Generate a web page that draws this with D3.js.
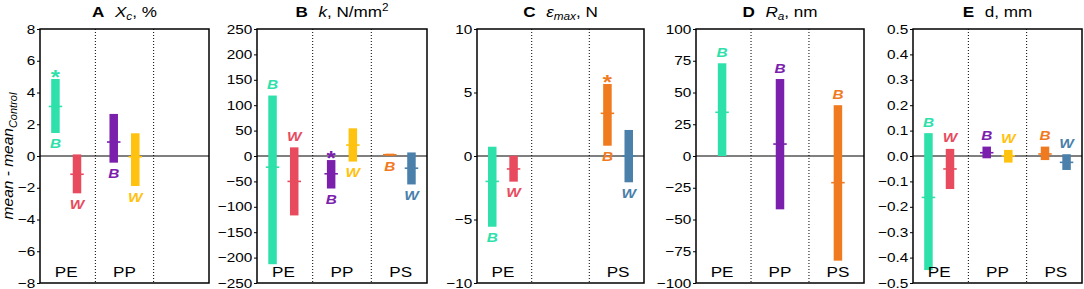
<!DOCTYPE html>
<html>
<head>
<meta charset="utf-8">
<script src="https://cdn.jsdelivr.net/npm/d3@7"></script>
<style>
  body { margin: 0; background: #fff; }
  svg text { font-family: "Liberation Sans", Arial, sans-serif; }
</style>
</head>
<body>
<div id="chart"></div>
<script>
// groups and series, order of every value array: PE-B, PE-W, PP-B, PP-W, PS-B, PS-W
const groups = ["PE", "PP", "PS"];
const series = ["B", "W"];

const colors = {
  PE: { B: "#2ee0aa", W: "#e84b5e" },
  PP: { B: "#7b20ad", W: "#ffc20f" },
  PS: { B: "#f07a1f", W: "#4a80aa" }
};

// A  Xc, %
const aLow  = [1.45, -2.35, -0.42, -1.89, null, null];
const aHigh = [4.85, 0.10, 2.65, 1.43, null, null];
const aMean = [3.12, -1.15, 0.88, -0.05, null, null];
const aStar = [1, 0, 0, 0, 0, 0];
const aSide = ["below", "below", "below", "below", null, null];
const aTicks = [-8, -6, -4, -2, 0, 2, 4, 6, 8];

// B  k, N/mm2
const bLow  = [-213, -117, -64, -11, 0.5, -56];
const bHigh = [119, 17, -8, 54.5, 4.5, 7];
const bMean = [-22, -50, -35, 21.6, 2.5, -24];
const bStar = [0, 0, 1, 0, 0, 0];
const bSide = ["above", "above", "below", "below", "below", "below"];
const bTicks = [-250, -200, -150, -100, -50, 0, 50, 100, 150, 200, 250];

// C  eps max, N
const cLow  = [-5.57, -2.02, null, null, 0.81, -2.07];
const cHigh = [0.73, 0.02, null, null, 5.67, 2.05];
const cMean = [-2.0, -1.02, null, null, 3.36, 0.0];
const cStar = [0, 0, 0, 0, 1, 0];
const cSide = ["below", "below", null, null, "below", "below"];
const cTicks = [-10, -5, 0, 5, 10];

// D  Ra, nm
const dLow  = [0, null, -42, null, -82.4, null];
const dHigh = [73, null, 60.6, null, 40, null];
const dMean = [34.4, null, 9.4, null, -21, null];
const dStar = [0, 0, 0, 0, 0, 0];
const dSide = ["above", null, "above", null, "above", null];
const dTicks = [-100, -75, -50, -25, 0, 25, 50, 75, 100];

// E  d, mm
const eLow  = [-0.449, -0.13, -0.009, -0.026, -0.016, -0.055];
const eHigh = [0.09, 0.028, 0.037, 0.024, 0.037, 0.007];
const eMean = [-0.163, -0.051, 0.013, 0.001, 0.008, -0.025];
const eStar = [0, 0, 0, 0, 0, 0];
const eSide = ["above", "above", "above", "above", "above", "above"];
const eTicks = [-0.5, -0.4, -0.3, -0.2, -0.1, 0, 0.1, 0.2, 0.3, 0.4, 0.5];

const panels = [
  { letter: "A", low: aLow, high: aHigh, mean: aMean, star: aStar, side: aSide, ticks: aTicks,
    dom: [-8, 8], fmt: d3.format("d"), left: 40, right: 209 },
  { letter: "B", low: bLow, high: bHigh, mean: bMean, star: bStar, side: bSide, ticks: bTicks,
    dom: [-250, 250], fmt: d3.format("d"), left: 257, right: 427 },
  { letter: "C", low: cLow, high: cHigh, mean: cMean, star: cStar, side: cSide, ticks: cTicks,
    dom: [-10, 10], fmt: d3.format("d"), left: 477, right: 644 },
  { letter: "D", low: dLow, high: dHigh, mean: dMean, star: dStar, side: dSide, ticks: dTicks,
    dom: [-100, 100], fmt: d3.format("d"), left: 696, right: 864 },
  { letter: "E", low: eLow, high: eHigh, mean: eMean, star: eStar, side: eSide, ticks: eTicks,
    dom: [-0.5, 0.5], fmt: d3.format(".1f"), left: 913, right: 1082 }
];

const W = 1084, H = 289;
const yTop = 29, yBot = 283;
const barW = 8.5;
const SX = 1.18; // the source fonts are a bit wider than Liberation Sans

const svg = d3.select("#chart").append("svg").attr("width", W).attr("height", H);

// text placed with a horizontal stretch
function txt(parent, x, y) {
  return parent.append("text").attr("transform", `translate(${x},${y}) scale(${SX},1)`);
}

// y axis label
const yl = svg.append("text")
  .attr("transform", `translate(13,${(yTop + yBot) / 2}) rotate(-90)`)
  .attr("text-anchor", "middle")
  .style("font-size", "15.5px").style("font-style", "italic");
yl.append("tspan").text("mean - mean");
yl.append("tspan").attr("dy", 4).style("font-size", "11px").text("Control");

// titles (rich text)
function title(g, letter, cx) {
  const t = txt(g, cx, 16.5).attr("text-anchor", "middle").style("font-size", "14.5px");
  t.append("tspan").style("font-weight", "bold").text(letter);
  const rest = t.append("tspan").attr("dx", 9);
  if (letter === "A") {
    rest.style("font-style", "italic").text("X");
    t.append("tspan").style("font-style", "italic").style("font-size", "10px").attr("dy", 3).text("c");
    t.append("tspan").attr("dy", -3).text(", %");
  } else if (letter === "B") {
    rest.style("font-style", "italic").text("k");
    t.append("tspan").text(", N/mm");
    t.append("tspan").style("font-size", "10px").attr("dy", -6).text("2");
  } else if (letter === "C") {
    rest.style("font-style", "italic").text("ε");
    t.append("tspan").style("font-style", "italic").style("font-size", "10px").attr("dy", 3).text("max");
    t.append("tspan").attr("dy", -3).text(", N");
  } else if (letter === "D") {
    rest.style("font-style", "italic").text("R");
    t.append("tspan").style("font-style", "italic").style("font-size", "10px").attr("dy", 3).text("a");
    t.append("tspan").attr("dy", -3).text(", nm");
  } else {
    rest.text("d, mm");
  }
}

panels.forEach(p => {
  const g = svg.append("g");
  const x = d3.scaleLinear().domain([-0.45, 2.45]).range([p.left, p.right]);
  const y = d3.scaleLinear().domain(p.dom).range([yBot, yTop]);

  // axis
  const ax = g.append("g").attr("transform", `translate(${p.left},0)`)
    .call(d3.axisLeft(y).tickValues(p.ticks).tickFormat(p.fmt).tickSize(3).tickPadding(1));
  ax.select(".domain").remove();
  ax.selectAll("text").style("font-size", "13px").attr("fill", "#000")
    .attr("transform", `scale(${SX},1)`);
  ax.selectAll("line").attr("stroke", "#000");

  // dividers
  [0.5, 1.5].forEach(v => {
    g.append("line").attr("x1", x(v)).attr("x2", x(v)).attr("y1", yTop).attr("y2", yBot)
      .attr("stroke", "#000").attr("stroke-width", 1).attr("stroke-dasharray", "1,2");
  });

  // zero line
  g.append("line").attr("x1", p.left).attr("x2", p.right).attr("y1", y(0)).attr("y2", y(0))
    .attr("stroke", "#000").attr("stroke-width", 1);

  // bars
  const rows = [];
  groups.forEach((gr, gi) => {
    const present = series.filter((s, si) => p.low[gi * 2 + si] != null);
    present.forEach((s) => {
      const si = series.indexOf(s);
      const i = gi * 2 + si;
      const off = present.length === 1 ? 0 : (si === 0 ? -0.185 : 0.185);
      rows.push({ g: gr, gi, s, lo: p.low[i], hi: p.high[i], m: p.mean[i],
        star: p.star[i], side: p.side[i], cx: x(gi + off), col: colors[gr][s] });
    });
  });

  g.selectAll("rect.bar").data(rows).enter().append("rect").attr("class", "bar")
    .attr("x", d => d.cx - barW / 2).attr("width", barW)
    .attr("y", d => y(d.hi)).attr("height", d => Math.max(1.5, y(d.lo) - y(d.hi)))
    .attr("fill", d => d.col);

  g.selectAll("line.mean").data(rows).enter().append("line").attr("class", "mean")
    .attr("x1", d => d.cx - barW / 2 - 2.5).attr("x2", d => d.cx + barW / 2 + 2.5)
    .attr("y1", d => y(d.m)).attr("y2", d => y(d.m))
    .attr("stroke", d => d.col).attr("stroke-width", 1.6);

  rows.forEach(d => {
    const ly = d.side === "above" ? y(d.hi) - 6.5 : y(d.lo) + 15.5;
    txt(g, d.cx, ly).attr("text-anchor", "middle").attr("fill", d.col)
      .style("font-size", "13px").style("font-weight", "bold").style("font-style", "italic")
      .text(d.s);
    if (d.star) {
      txt(g, d.cx, y(d.hi) + 5).attr("text-anchor", "middle").attr("fill", d.col)
        .style("font-size", "20px").style("font-weight", "bold").text("*");
    }
  });

  // group labels
  groups.forEach((gr, gi) => {
    if (p.low[gi * 2] == null && p.low[gi * 2 + 1] == null) return;
    txt(g, x(gi), 277).attr("text-anchor", "middle").style("font-size", "14.5px").text(gr);
  });

  // frame
  g.append("rect").attr("x", p.left).attr("y", yTop).attr("width", p.right - p.left)
    .attr("height", yBot - yTop).attr("fill", "none").attr("stroke", "#000").attr("stroke-width", 1.5);

  title(g, p.letter, (p.left + p.right) / 2);
});
</script>
</body>
</html>
